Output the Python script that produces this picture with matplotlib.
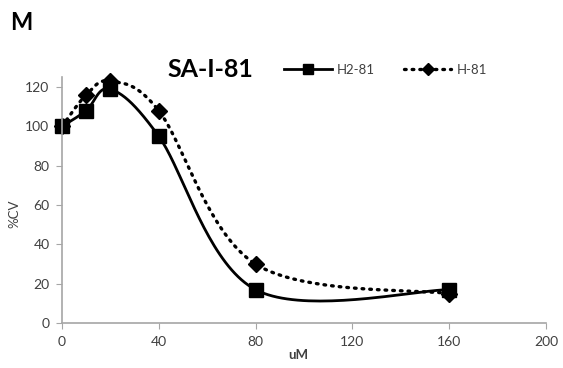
import numpy as np
import matplotlib
matplotlib.use("Agg")
from matplotlib import pyplot as plt
from matplotlib.lines import Line2D

plt.rcParams['font.family'] = ['Lato', 'DejaVu Sans']

conc = [0, 10, 20, 40, 80, 160]
h2_81 = [100, 108, 119, 95, 17, 17]
h_81 = [100, 116, 123, 108, 30, 15]

xmax, ymax = 200, 125

def smooth(xs, ys, n=40):
    # Excel-style smoothed line: cubic Bezier segments, control points from neighbours (tension 1/6)
    sx, sy = 1.0 / xmax, 1.0 / ymax
    p = np.column_stack([np.array(xs) * sx, np.array(ys) * sy * 0.55])
    out = []
    for i in range(len(p) - 1):
        p0 = p[i - 1] if i > 0 else p[i]
        p1, p2 = p[i], p[i + 1]
        p3 = p[i + 2] if i + 2 < len(p) else p[i + 1]
        c1 = p1 + (p2 - p0) / 6
        c2 = p2 - (p3 - p1) / 6
        t = np.linspace(0, 1, n)[:, None]
        seg = (1 - t) ** 3 * p1 + 3 * (1 - t) ** 2 * t * c1 + 3 * (1 - t) * t ** 2 * c2 + t ** 3 * p2
        out.append(seg if i == 0 else seg[1:])
    out = np.vstack(out)
    return out[:, 0] / sx, out[:, 1] / (sy * 0.55)

fig = plt.figure(figsize=(5.63, 3.68), dpi=100)
ax = fig.add_axes([0.110, 0.122, 0.860, 0.668])

dots = (0, (0.5, 1.8))

sx, sy = smooth(conc, h_81)
ax.plot(sx, sy, color='black', lw=2.4, linestyle=dots, dash_capstyle='round', clip_on=False)
ax.plot(conc, h_81, linestyle='none', marker='D', ms=8, color='black', clip_on=False)

sx, sy = smooth(conc, h2_81)
ax.plot(sx, sy, color='black', lw=2, clip_on=False)
ax.plot(conc, h2_81, linestyle='none', marker='s', ms=10, color='black', clip_on=False)

ax.set_xlim(0, xmax)
ax.set_ylim(0, ymax)
ax.set_xticks([0, 40, 80, 120, 160, 200])
ax.set_yticks(range(0, 121, 20))
for s in ['top', 'right']:
    ax.spines[s].set_visible(False)
for s in ['left', 'bottom']:
    ax.spines[s].set_color('#a6a6a6')
    ax.spines[s].set_linewidth(1.2)
ax.tick_params(colors='#a6a6a6', labelcolor='#404040', labelsize=10, length=4, direction='out', pad=5)

fig.text(0.025, 0.42, '%CV', rotation=90, fontsize=9.5, color='#404040', ha='center', va='center')
fig.text(0.53, 0.035, 'uM', fontsize=9.5, fontweight='bold', color='#404040', ha='center', va='center')
fig.text(0.037, 0.94, 'M', fontsize=17, fontweight='bold', ha='center', va='center')
fig.text(0.373, 0.81, 'SA-I-81', fontsize=18, fontweight='bold', ha='center', va='center')

handles = [
    Line2D([], [], color='black', lw=2, marker='s', ms=7),
    Line2D([], [], color='black', lw=2.4, linestyle=dots, dash_capstyle='round', marker='D', ms=6),
]
fig.legend(handles, ['H2-81', 'H-81'], loc='center', bbox_to_anchor=(0.685, 0.81), ncol=2,
           frameon=False, fontsize=9.5, labelcolor='#404040', handlelength=3.6, columnspacing=2.2,
           handletextpad=0.4)

fig.savefig('out.png', dpi=100)
